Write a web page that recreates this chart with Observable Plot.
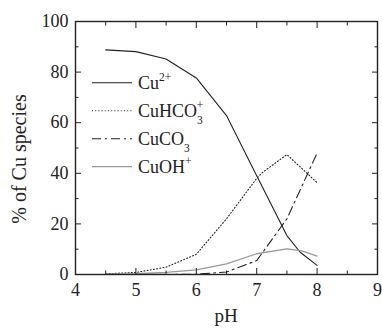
<!DOCTYPE html>
<html><head><meta charset="utf-8">
<script src="https://cdn.jsdelivr.net/npm/d3@7"></script>
<script src="https://cdn.jsdelivr.net/npm/@observablehq/plot@0.6"></script>
<style>body{margin:0;background:#fff}</style>
</head><body><div id="chart"></div>
<script>
const phCu = [4.5, 5, 5.5, 6, 6.5, 7, 7.5, 7.72, 8];
const cu2 = [88.8, 88.1, 85.2, 77.7, 62.8, 39, 15.4, 8.8, 3.6];
const phHCO3 = [4.5, 5, 5.5, 6, 6.5, 7, 7.1, 7.5, 8];
const cuHCO3 = [0.3, 0.8, 2.9, 8.0, 22, 38, 40.4, 47.4, 36.3];
const phCO3 = [4.5, 5, 5.5, 6, 6.5, 7, 7.5, 8];
const cuCO3 = [0, 0, 0, 0.1, 1.0, 5.5, 22, 48];
const phOH = [4.5, 5, 5.5, 6, 6.5, 7, 7.5, 7.75, 8];
const cuOH = [0.1, 0.3, 0.8, 1.8, 4.2, 8.2, 10.1, 9.3, 7.3];
const xMajor = [4, 5, 6, 7, 8, 9];
const xMinor = [4.5, 5.5, 6.5, 7.5, 8.5];
const yMajor = [0, 20, 40, 60, 80, 100];
const yMinor = [10, 30, 50, 70, 90];
const xTitle = "pH";
const yTitle = "% of Cu species";

const mk = (xs, ys) => xs.map((x, i) => ({x, y: ys[i]}));
const FF = "Liberation Serif";

const chart = Plot.plot({
  width: 382, height: 329,
  marginLeft: 75, marginRight: 5, marginTop: 21, marginBottom: 55,
  style: {fontFamily: FF, fontSize: "18px", color: "#222", background: "#fff"},
  x: {domain: [4, 9]},
  y: {domain: [0, 100]},
  marks: [
    Plot.line(mk(phCu, cu2), {x: "x", y: "y", stroke: "#222", strokeWidth: 1.1}),
    Plot.line(mk(phHCO3, cuHCO3), {x: "x", y: "y", stroke: "#222", strokeWidth: 1.1, strokeDasharray: "1,2.2"}),
    Plot.line(mk(phCO3, cuCO3), {x: "x", y: "y", stroke: "#222", strokeWidth: 1.1, strokeDasharray: "9,4,2,4"}),
    Plot.line(mk(phOH, cuOH), {x: "x", y: "y", stroke: "#999", strokeWidth: 1.3}),
    Plot.axisX(xMajor, {anchor: "bottom", tickSize: -6, tickPadding: 15, label: null, fontSize: 18, fontFamily: FF}),
    Plot.axisX(xMinor, {anchor: "bottom", tickSize: -3.5, tickFormat: () => "", label: null}),
    Plot.axisX(xMajor, {anchor: "top", tickSize: -6, tickFormat: () => "", label: null}),
    Plot.axisX(xMinor, {anchor: "top", tickSize: -3.5, tickFormat: () => "", label: null}),
    Plot.axisY(yMajor, {anchor: "left", tickSize: -6, tickPadding: 13, label: null, fontSize: 18, fontFamily: FF}),
    Plot.axisY(yMinor, {anchor: "left", tickSize: -3.5, tickFormat: () => "", label: null}),
    Plot.axisY(yMajor, {anchor: "right", tickSize: -6, tickFormat: () => "", label: null}),
    Plot.axisY(yMinor, {anchor: "right", tickSize: -3.5, tickFormat: () => "", label: null}),
    Plot.frame({stroke: "#222", strokeWidth: 1.4})
  ]
});
document.getElementById("chart").appendChild(chart);

const svg = d3.select(chart);
// axis titles
svg.append("text").attr("x", 226).attr("y", 322).attr("text-anchor", "middle")
  .attr("font-size", 19).attr("fill", "#222").text(xTitle);
svg.append("text").attr("transform", "translate(26,159) rotate(-90)").attr("text-anchor", "middle")
  .attr("font-size", 20).attr("fill", "#222").text(yTitle);

// legend
const legend = [
  {name: "Cu", sup: "2+", sub: null, stroke: "#222", dash: null, w: 1.1},
  {name: "CuHCO", sup: "+", sub: "3", stroke: "#222", dash: "1,2.2", w: 1.1},
  {name: "CuCO", sup: null, sub: "3", stroke: "#222", dash: "9,4,2,4", w: 1.1},
  {name: "CuOH", sup: "+", sub: null, stroke: "#999", dash: null, w: 1.3}
];
const lg = svg.append("g").attr("font-size", 18).attr("fill", "#222").attr("text-anchor", "start");
legend.forEach((d, i) => {
  const y = 82.7 + i * 28;
  lg.append("line").attr("x1", 92).attr("x2", 132).attr("y1", y).attr("y2", y)
    .attr("stroke", d.stroke).attr("stroke-width", d.w).attr("stroke-dasharray", d.dash);
  const t = lg.append("text").attr("x", 138).attr("y", y + 6);
  t.append("tspan").text(d.name);
  if (d.sup && !d.sub) {
    t.append("tspan").attr("dy", -8).attr("font-size", 11.5).text(d.sup);
  } else if (d.sub && !d.sup) {
    t.append("tspan").attr("dy", 7).attr("font-size", 11.5).text(d.sub);
  } else if (d.sub && d.sup) {
    t.append("tspan").attr("dy", 7).attr("font-size", 11.5).text(d.sub);
    t.append("tspan").attr("dx", -6).attr("dy", -15).attr("font-size", 11.5).text(d.sup);
  }
});
// force the serif face on every text element
svg.selectAll("text, tspan").attr("font-family", FF).style("font-family", FF).style("font-variant", "normal");
</script>
</body></html>
